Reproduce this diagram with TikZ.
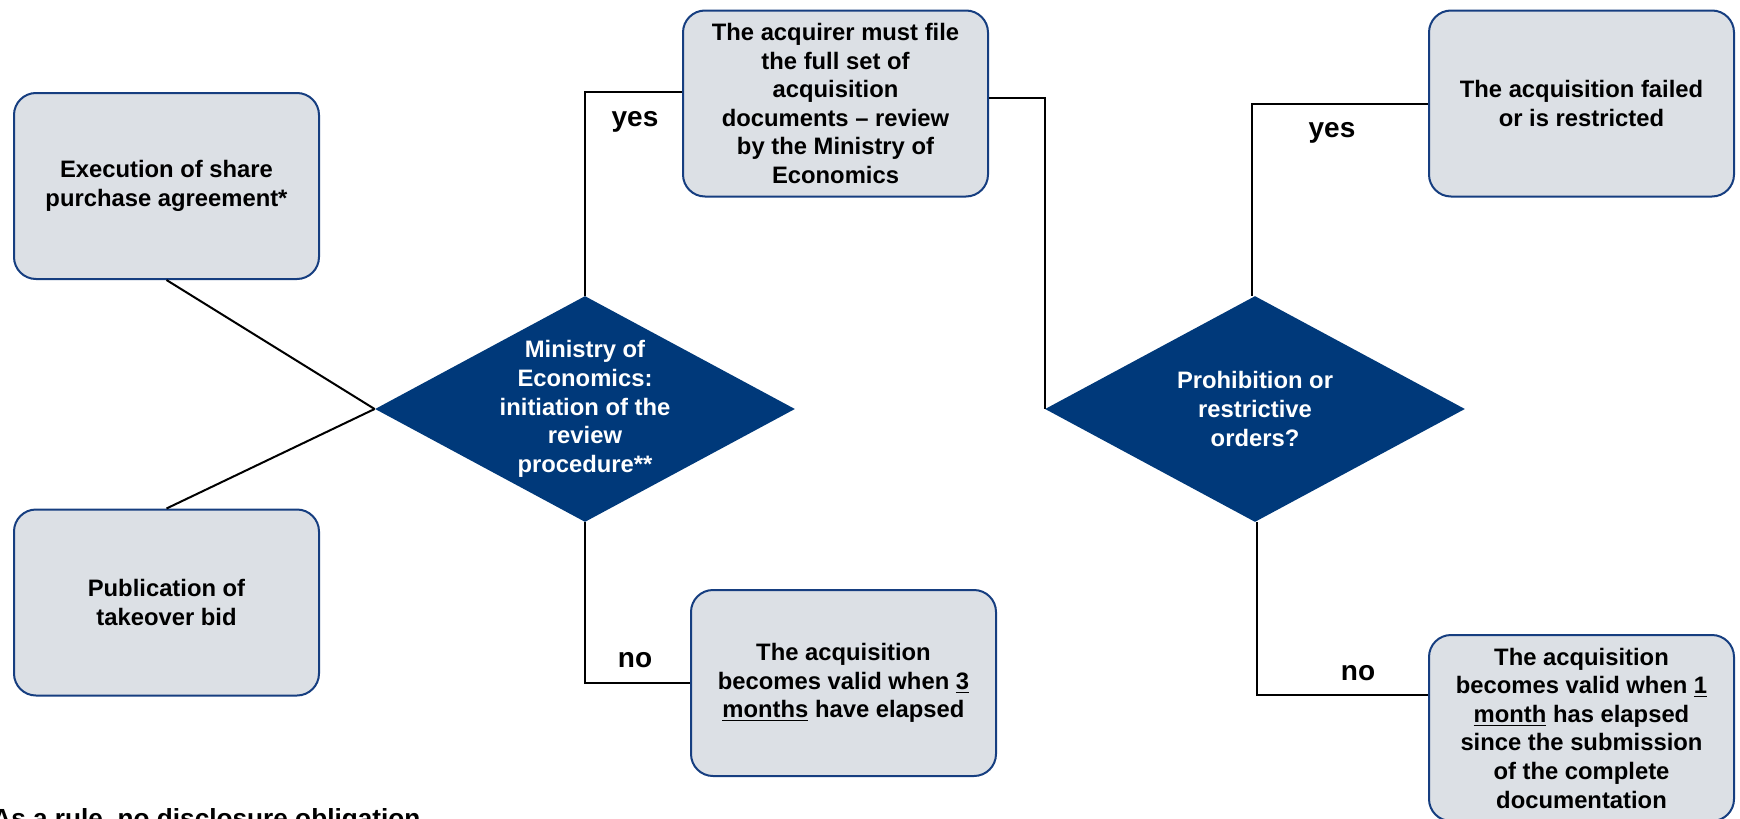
\documentclass[tikz,border=0pt]{standalone}
\usepackage{xcolor}
\usepackage{fontspec}
\setmainfont{Liberation Sans}
\usepackage{tikz}
\usetikzlibrary{shapes.geometric}

\definecolor{boxfill}{RGB}{220,224,229}
\definecolor{boxline}{RGB}{22,62,128}
\definecolor{decfill}{RGB}{0,57,122}

\tikzset{
  stepbox/.style={draw=boxline,fill=boxfill,line width=1pt,rounded corners=11pt,
    minimum width=152.5pt,minimum height=93pt,align=center,inner sep=2pt,
    font=\bfseries\fontsize{11.9}{14.3}\selectfont},
  decision/.style={diamond,fill=decfill,inner sep=0pt,
    minimum width=210pt,minimum height=113pt},
  dectext/.style={text=white,align=center,font=\bfseries\fontsize{11.9}{14.3}\selectfont},
  answer/.style={font=\bfseries\fontsize{14}{16}\selectfont},
  link/.style={line width=1pt,black}
}

\begin{document}
\begin{tikzpicture}[x=0.5pt,y=-0.5pt]

    \useasboundingbox (0,0) rectangle (1740,819);
          % Keeps the page at the size of the reference.

    \node[stepbox] (sharedeal) at (166.5,186) {Execution of share\\purchase agreement*};
    \node[stepbox] (takeover) at (166.5,602.5) {Publication of\\takeover bid};

    \node[decision] (review) at (585,409) {};
    \node[dectext] at (review) {Ministry of\\Economics:\\initiation of the\\review\\procedure**};

    \node[stepbox] (filing) at (835.5,103.5) {The acquirer must file\\the full set of\\acquisition\\documents – review\\by the Ministry of\\Economics};
    \node[stepbox] (valid3) at (843.5,683) {The acquisition\\becomes valid when \underline{3}\\\underline{months} have elapsed};

    \node[decision] (orders) at (1255,409) {};
    \node[dectext] at (orders) {Prohibition or\\restrictive\\orders?};

    \node[stepbox] (failed) at (1581.5,103.5) {The acquisition failed\\or is restricted};
    \node[stepbox] (valid1) at (1581.5,728) {The acquisition\\becomes valid when \underline{1}\\\underline{month} has elapsed\\since the submission\\of the complete\\documentation};

		% Connectors between the steps
		\draw[link] (sharedeal.south) -- (review.west);
		\draw[link] (takeover.north) -- (review.west);
		\draw[link] (review.north) |- ([yshift=5.75pt]filing.west);
		\draw[link] (review.south) |- (valid3.west);
		\draw[link] ([yshift=2.75pt]filing.east) -| (orders.west);
		\draw[link] ([xshift=-1.5pt]orders.north) |- (failed.west);
		\draw[link] ([xshift=1pt]orders.south) |- ([yshift=16.5pt]valid1.west);

		\node[answer] (yes1) at (635,122) {yes};
		\node[answer] (no1) at (635,660) {no};
		\node[answer] (yes2) at (1332,133) {yes};
		\node[answer] (no2) at (1358,673) {no};

		\node[anchor=base west,inner sep=0pt,font=\bfseries\fontsize{13.1}{15.7}\selectfont] (note) at (-8,827) {As a rule, no disclosure obligation};

\end{tikzpicture}
\end{document}
